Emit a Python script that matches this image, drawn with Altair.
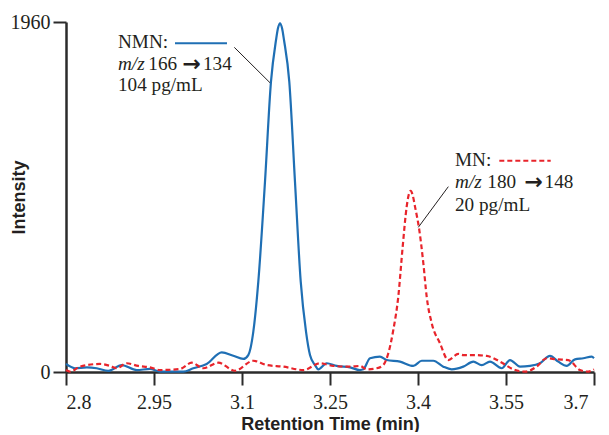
import altair as alt
import pandas as pd

# NMN (m/z 166 -> 134), solid blue trace
nmn_time = [2.8000, 2.8153, 2.8353, 2.8523, 2.8721, 2.8949, 2.9205, 2.9432, 2.9602, 3.0000,
            3.0170, 3.0398, 3.0654, 3.0852, 3.1022, 3.1107, 3.1193, 3.1278, 3.1392, 3.1494,
            3.1580, 3.1614, 3.1648, 3.1682, 3.1716, 3.1806, 3.1903, 3.2001, 3.2091, 3.2159,
            3.2244, 3.2300, 3.2444, 3.2614, 3.2841, 3.3011, 3.3068, 3.3182, 3.3352, 3.3466,
            3.3693, 3.3920, 3.4063, 3.4261, 3.4431, 3.4574, 3.4772, 3.4943, 3.5086, 3.5227,
            3.5427, 3.5568, 3.5739, 3.5909, 3.6080, 3.6250, 3.6391, 3.6535, 3.6676, 3.6818,
            3.6961, 3.7000]
nmn_int = [45, 21, 26, 21, 6, 39, 11, 17, 2, 2,
           21, 45, 110, 91, 73, 95, 226, 506, 1066, 1626,
           1859, 1926, 1953, 1926, 1859, 1626, 1066, 506, 226, 95,
           39, 15, 49, 34, 26, 11, 15, 77, 86, 67,
           58, 34, 63, 63, 30, 15, 30, 58, 39, 58,
           21, 67, 30, 34, 49, 90, 58, 34, 71, 77,
           86, 77]

# MN (m/z 180 -> 148), dashed red trace
mn_time = [2.8000, 2.8068, 2.8239, 2.8580, 2.8750, 2.8864, 2.9035, 2.9232, 2.9432, 2.9602,
           2.9943, 3.0143, 3.0340, 3.0596, 3.0881, 3.1193, 3.1421, 3.1704, 3.2045, 3.2330,
           3.2556, 3.2841, 3.3011, 3.3125, 3.3296, 3.3409, 3.3494, 3.3579, 3.3664, 3.3739,
           3.3807, 3.3841, 3.3876, 3.3909, 3.3949, 3.4022, 3.4091, 3.4148, 3.4234, 3.4375,
           3.4516, 3.4687, 3.4772, 3.4943, 3.5171, 3.5398, 3.5625, 3.5824, 3.6023, 3.6193,
           3.6364, 3.6562, 3.6761, 3.6903, 3.7000]
mn_int = [11, 2, 30, 45, 34, 21, 49, 34, 26, 11,
          17, 52, 21, 52, 7, 63, 39, 30, 11, 49,
          34, 30, 34, 15, 21, 39, 105, 235, 422, 702,
          926, 991, 1015, 991, 926, 795, 609, 422, 273, 161,
          67, 101, 95, 95, 90, 58, 15, 2, 30, 77,
          71, 67, 11, 2, 15]

x_ticks = [2.8, 2.95, 3.1, 3.25, 3.4, 3.55, 3.7]
y_ticks = [0, 1960]

# annotation anchors (data coordinates: time, intensity)
nmn_lines_t = [2.8886, 2.8886, 2.9403, 2.9986, 3.0335, 2.8886]
nmn_lines_i = [1814, 1691, 1691, 1683, 1691, 1575]
nmn_key = {"t": 2.9858, "t2": 3.0744, "i": 1841}
nmn_leader = {"t": 3.0869, "i": 1818, "t2": 3.1477, "i2": 1620}
mn_lines_t = [3.4631, 3.4631, 3.5181, 3.5815, 3.6157, 3.4631]
mn_lines_i = [1154, 1032, 1032, 1024, 1032, 903]
mn_key = {"t": 3.5386, "t2": 3.6262, "i": 1183}
mn_leader = {"t": 3.4517, "i": 1038, "t2": 3.4005, "i2": 810}
nmn_texts = ["NMN:", "m/z", "166", "\u2192", "134", "104 pg/mL"]
mn_texts = ["MN:", "m/z", "180", "\u2192", "148", "20 pg/mL"]
text_kind = ["roman", "italic", "roman", "arrow", "roman", "roman"]

BLUE = "#1f6fb4"
RED = "#e8242b"
INK = "#231f20"
SERIF = "Liberation Serif"
SANS = "Liberation Sans"
FS = 19.2

df_nmn = pd.DataFrame({"t": nmn_time, "i": nmn_int})
df_mn = pd.DataFrame({"t": mn_time, "i": mn_int})

X = alt.X("t:Q",
          scale=alt.Scale(domain=[2.8, 3.7], nice=False, zero=False),
          axis=alt.Axis(values=x_ticks, format=".3~g", title="Retention Time (min)",
                        grid=False, tickSize=13, labelPadding=7,
                        labelOffset=alt.condition("datum.value > 3.69",
                                                  alt.value(-6), alt.value(0)),
                        titleY=57, titleBaseline="alphabetic"))
Y = alt.Y("i:Q",
          scale=alt.Scale(domain=[0, 1960], nice=False),
          axis=alt.Axis(values=y_ticks, format="d", title="Intensity",
                        grid=False, tickSize=13, labelPadding=3,
                        titleX=-47, titleY=175, titleAlign="center",
                        titleBaseline="middle"))

nmn_line = alt.Chart(df_nmn).mark_line(color=BLUE, strokeWidth=2.2,
                                       interpolate="monotone").encode(x=X, y=Y)
mn_line = alt.Chart(df_mn).mark_line(color=RED, strokeWidth=2.2, strokeDash=[5, 3],
                                     interpolate="monotone").encode(x=X, y=Y)

key_nmn = alt.Chart(pd.DataFrame([nmn_key])).mark_rule(
    color=BLUE, strokeWidth=2.2).encode(x=X, x2=alt.X2("t2:Q"), y=Y)
key_mn = alt.Chart(pd.DataFrame([mn_key])).mark_rule(
    color=RED, strokeWidth=2.2, strokeDash=[5, 3]).encode(x=X, x2=alt.X2("t2:Q"), y=Y)

leaders = alt.Chart(pd.DataFrame([nmn_leader, mn_leader])).mark_rule(
    color=INK, strokeWidth=1).encode(x=X, y=Y, x2=alt.X2("t2:Q"), y2=alt.Y2("i2:Q"))

txt_df = pd.DataFrame({
    "t": nmn_lines_t + mn_lines_t,
    "i": nmn_lines_i + mn_lines_i,
    "txt": nmn_texts + mn_texts,
    "kind": text_kind + text_kind,
})

roman_text = alt.Chart(txt_df[txt_df.kind == "roman"]).mark_text(
    align="left", baseline="alphabetic", font=SERIF, fontSize=FS, color=INK
).encode(x=X, y=Y, text="txt:N")
italic_text = alt.Chart(txt_df[txt_df.kind == "italic"]).mark_text(
    align="left", baseline="alphabetic", font=SERIF, fontSize=FS, fontStyle="italic",
    color=INK
).encode(x=X, y=Y, text="txt:N")
arrow_text = alt.Chart(txt_df[txt_df.kind == "arrow"]).mark_text(
    align="left", baseline="alphabetic", font="DejaVu Sans", fontWeight="bold",
    fontSize=22, color=INK
).encode(x=X, y=Y, text="txt:N")

chart = alt.layer(
    nmn_line, mn_line, key_nmn, key_mn, leaders, roman_text, italic_text, arrow_text
).properties(
    width=528, height=350,
    padding={"left": 58, "top": 14, "right": 7, "bottom": 60},
    autosize=alt.AutoSizeParams(type="none"),
).configure_view(
    stroke=None
).configure_axis(
    domainColor="#2b2b2b", domainWidth=2.5, tickColor="#2b2b2b", tickWidth=2,
    labelFont=SERIF, labelFontSize=20, labelColor=INK,
    titleFont=SANS, titleFontSize=18, titleFontWeight="bold", titleColor=INK,
)

chart.save("out.html", embed_options={"renderer": "svg", "actions": False})
